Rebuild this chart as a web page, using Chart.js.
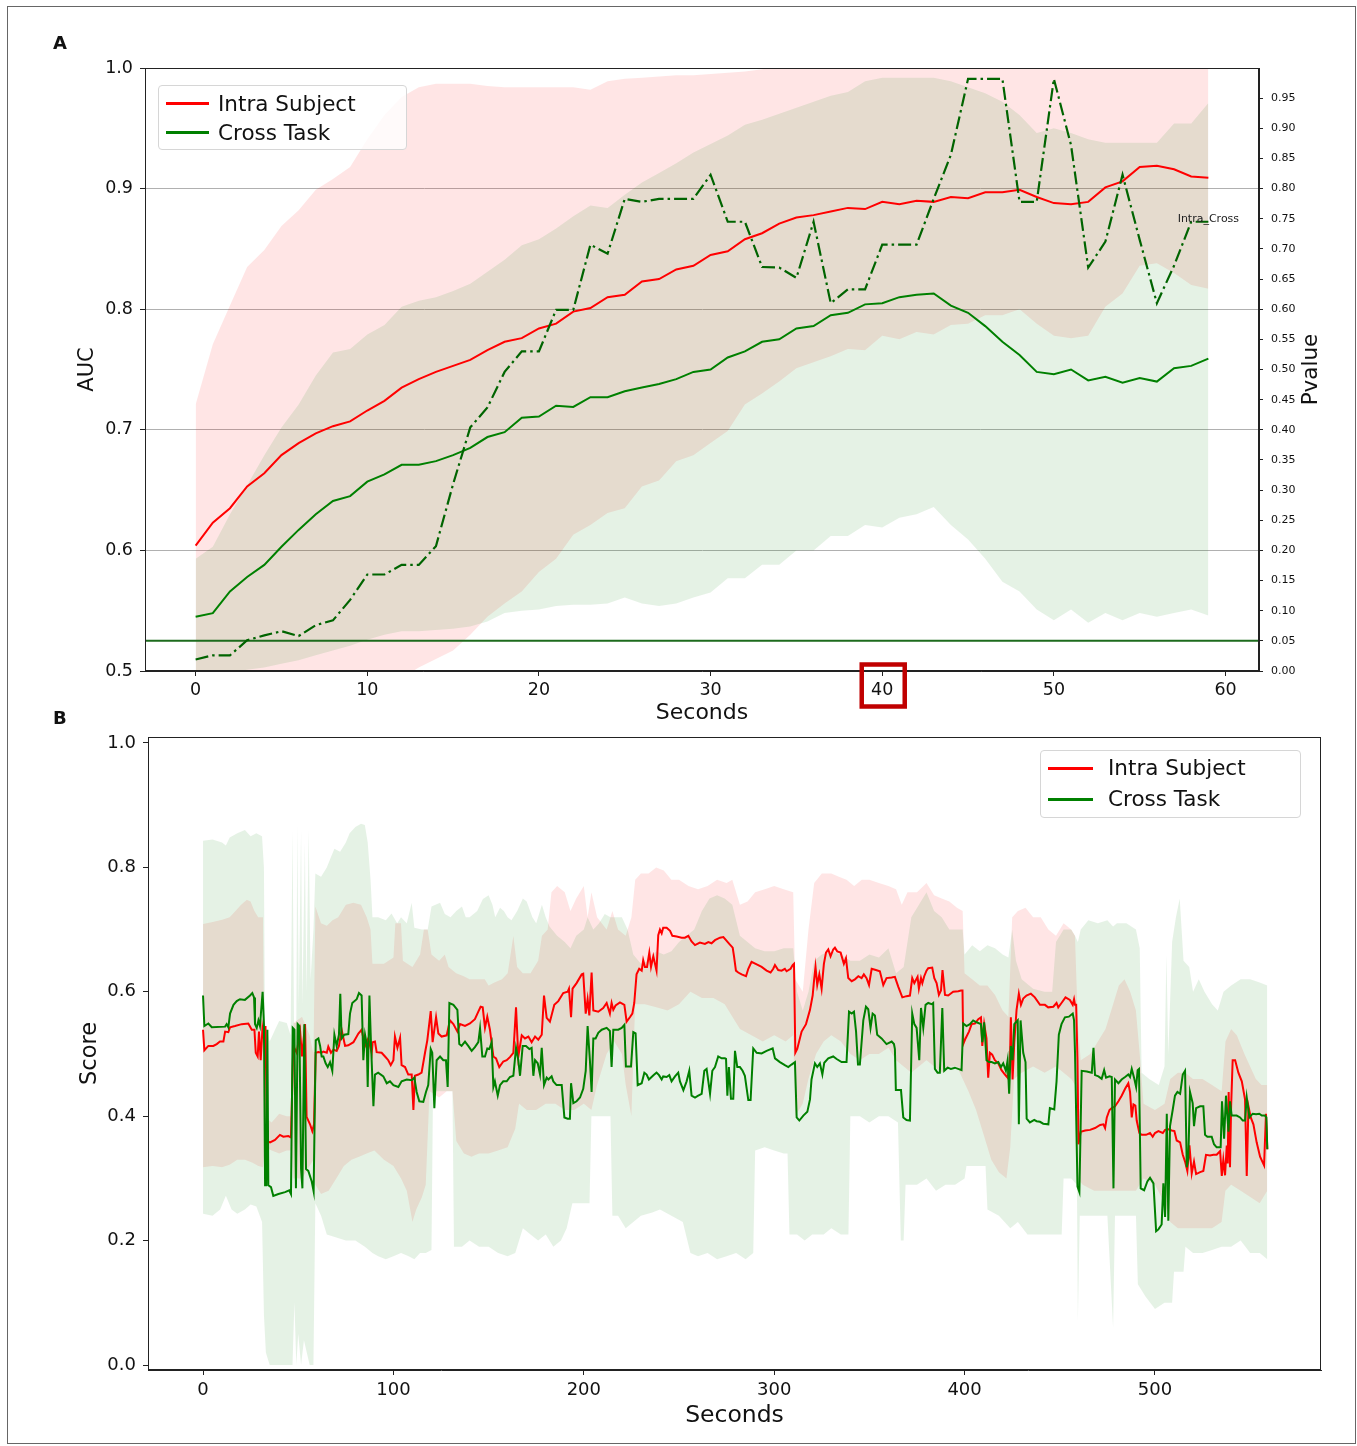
<!DOCTYPE html>
<html>
<head>
<meta charset="utf-8">
<title>AUC over time and per-second scores</title>
<script src="https://cdn.jsdelivr.net/npm/chart.js@4.4.1/dist/chart.umd.min.js"></script>
<style>
  html, body { margin: 0; padding: 0; background: #fff; overflow: hidden; }
  #page { position: relative; width: 1357px; height: 1446px; background: #fff; font-family: "DejaVu Sans", sans-serif; color: #111; }
  .frame { position: absolute; left: 7px; top: 6px; width: 1349px; height: 1438px; border: 1.5px solid #666; box-sizing: border-box; }
  .letter { position: absolute; font-weight: bold; font-size: 18px; line-height: 18px; }
  canvas { position: absolute; left: 0; }
  .legend { position: absolute; background: rgba(255,255,255,0.8); border: 1px solid #d6d6d6; border-radius: 4px; box-sizing: border-box; }
  .legend .swatch { position: absolute; height: 3px; }
  .legend .label { position: absolute; white-space: nowrap; font-size: 21.5px; line-height: 26px; }
</style>
</head>
<body>
<div id="page">
  <div class="frame"></div>
  <canvas id="chartA" width="1357" height="730" style="top:0px"></canvas>
  <canvas id="chartB" width="1357" height="746" style="top:700px"></canvas>
  <div class="letter" style="left:53px;top:34px">A</div>
  <div class="letter" style="left:53px;top:709px">B</div>

  <div class="legend" style="left:158px;top:85px;width:249px;height:65px">
    <div class="swatch" style="left:7px;top:16px;width:43px;background:#ff0000"></div>
    <div class="label" style="left:59px;top:5px">Intra Subject</div>
    <div class="swatch" style="left:7px;top:45px;width:43px;background:#008000"></div>
    <div class="label" style="left:59px;top:34px">Cross Task</div>
  </div>

  <div class="legend" style="left:1040px;top:750px;width:261px;height:68px">
    <div class="swatch" style="left:7px;top:15.5px;width:45px;background:#ff0000"></div>
    <div class="label" style="left:67px;top:4px">Intra Subject</div>
    <div class="swatch" style="left:7px;top:46.5px;width:45px;background:#008000"></div>
    <div class="label" style="left:67px;top:35px">Cross Task</div>
  </div>
</div>

<script>
// ---------- Panel A: AUC per second (mean with band) and p-value ----------
const secondsA = [0,1,2,3,4,5,6,7,8,9,10,11,12,13,14,15,16,17,18,19,20,21,22,23,24,25,26,27,28,29,
                  30,31,32,33,34,35,36,37,38,39,40,41,42,43,44,45,46,47,48,49,50,51,52,53,54,55,56,57,58,59];

const intraMeanA = [0.604,0.623,0.635,0.653,0.664,0.679,0.689,0.697,0.703,0.707,
                    0.716,0.724,0.735,0.742,0.748,0.753,0.758,0.766,0.773,0.776,
                    0.784,0.788,0.798,0.801,0.810,0.812,0.823,0.825,0.833,0.836,
                    0.845,0.848,0.858,0.863,0.871,0.876,0.878,0.881,0.884,0.883,
                    0.889,0.887,0.890,0.889,0.893,0.892,0.897,0.897,0.899,0.893,
                    0.888,0.887,0.889,0.901,0.906,0.918,0.919,0.916,0.910,0.909];
const intraUpperA = [0.721,0.771,0.803,0.835,0.849,0.869,0.882,0.899,0.908,0.918,
                     0.941,0.961,0.976,0.984,0.987,0.987,0.987,0.985,0.984,0.984,
                     0.984,0.984,0.984,0.982,0.989,0.991,0.992,0.993,0.994,0.994,
                     0.995,0.996,0.997,0.999,1.002,1.001,1.000,1.001,1.001,1.000,
                     1.000,1.001,1.002,1.001,1.001,1.000,1.001,1.001,1.002,1.002,
                     1.003,1.002,1.002,1.001,1.001,1.002,1.002,1.003,1.002,1.002];
const intraLowerA = [0.486,0.475,0.467,0.471,0.479,0.489,0.496,0.495,0.498,0.496,
                     0.491,0.487,0.494,0.503,0.510,0.517,0.530,0.545,0.556,0.566,
                     0.582,0.593,0.613,0.621,0.631,0.635,0.653,0.658,0.674,0.679,
                     0.689,0.699,0.721,0.730,0.740,0.751,0.756,0.761,0.767,0.766,
                     0.778,0.775,0.781,0.779,0.787,0.788,0.795,0.795,0.800,0.788,
                     0.778,0.776,0.778,0.802,0.813,0.836,0.838,0.830,0.820,0.817];

const crossMeanA = [0.545,0.548,0.566,0.578,0.588,0.603,0.617,0.630,0.641,0.645,
                    0.657,0.663,0.671,0.671,0.674,0.679,0.685,0.694,0.698,0.710,
                    0.711,0.720,0.719,0.727,0.727,0.732,0.735,0.738,0.742,0.748,
                    0.750,0.760,0.765,0.773,0.775,0.784,0.786,0.795,0.797,0.804,
                    0.805,0.810,0.812,0.813,0.803,0.797,0.786,0.773,0.762,0.748,
                    0.746,0.750,0.741,0.744,0.739,0.743,0.740,0.751,0.753,0.759];
const crossUpperA = [0.593,0.603,0.630,0.654,0.679,0.702,0.721,0.745,0.764,0.767,
                     0.779,0.787,0.802,0.807,0.810,0.815,0.821,0.831,0.841,0.853,
                     0.858,0.867,0.877,0.886,0.884,0.895,0.905,0.913,0.921,0.930,
                     0.937,0.944,0.953,0.957,0.962,0.967,0.972,0.977,0.980,0.989,
                     0.992,0.992,0.992,0.992,0.989,0.984,0.979,0.972,0.961,0.946,
                     0.950,0.946,0.941,0.938,0.938,0.938,0.938,0.954,0.954,0.971];
const crossLowerA = [0.495,0.497,0.499,0.501,0.503,0.506,0.509,0.513,0.517,0.521,
                     0.526,0.530,0.533,0.533,0.534,0.535,0.537,0.541,0.548,0.550,
                     0.551,0.554,0.555,0.555,0.556,0.561,0.556,0.554,0.556,0.561,
                     0.565,0.577,0.577,0.588,0.588,0.600,0.600,0.612,0.612,0.621,
                     0.619,0.627,0.630,0.636,0.621,0.609,0.593,0.574,0.566,0.551,
                     0.542,0.551,0.540,0.548,0.542,0.548,0.545,0.548,0.551,0.546];

const pValueA = [0.019,0.026,0.026,0.051,0.059,0.066,0.058,0.076,0.084,0.118,
                 0.160,0.160,0.176,0.176,0.207,0.310,0.404,0.437,0.496,0.530,
                 0.530,0.599,0.599,0.707,0.692,0.783,0.778,0.783,0.783,0.783,
                 0.823,0.745,0.745,0.670,0.669,0.652,0.745,0.610,0.633,0.633,
                 0.707,0.707,0.707,0.783,0.856,0.982,0.982,0.982,0.778,0.778,
                 0.982,0.872,0.669,0.712,0.823,0.715,0.610,0.672,0.745,0.745];
const pThreshold = 0.05;

const secTicksA = [0,10,20,30,40,50,60];
const aucTicks = [0.5,0.6,0.7,0.8,0.9,1.0];
const pTicks = [0,0.05,0.10,0.15,0.20,0.25,0.30,0.35,0.40,0.45,0.50,0.55,0.60,0.65,0.70,0.75,0.80,0.85,0.90,0.95];
const xRangeA = [-2.95, 61.95];
const noteLabel = 'Intra_Cross';
const noteAt = [59, 0.75];
const highlightedTick = 40;

// ---------- Panel B: per-second scores (breakpoints [second, score]) ----------
const intraScoreB = [[0,0.539],[0.7,0.506],[2.8,0.513],[5.4,0.513],[7.2,0.516],[8.9,0.520],[10.7,0.520],[11.6,0.536],[13.3,0.535],[14.2,0.543],[16.8,0.545],[20.3,0.548],[23.8,0.549],[25.6,0.539],[27,0.539],[27.7,0.502],[28.7,0.496],[29.4,0.536],[30.3,0.490],[31.2,0.541],[32,0.525],[32.8,0.545],[33.6,0.360],[35.2,0.358],[37.8,0.362],[40.4,0.370],[42.2,0.367],[44.8,0.368],[46.2,0.366],[47.4,0.513],[49.2,0.502],[51,0.536],[52,0.496],[53.6,0.548],[54.4,0.399],[56.2,0.387],[57.4,0.376],[58.3,0.387],[59.2,0.502],[60.6,0.503],[62.3,0.502],[63.2,0.504],[65,0.502],[65.8,0.512],[67.2,0.502],[68.5,0.507],[70.2,0.505],[71.4,0.513],[72.8,0.539],[74.6,0.513],[76.3,0.514],[79,0.519],[81.6,0.533],[83.3,0.539],[85.1,0.513],[86.8,0.525],[88.6,0.502],[89.1,0.519],[90.3,0.520],[91.2,0.503],[93.8,0.502],[95.6,0.496],[97.3,0.490],[98.6,0.482],[100,0.490],[100.8,0.528],[102.1,0.510],[103.5,0.526],[104.3,0.482],[106.1,0.479],[107.8,0.467],[109.6,0.467],[110.5,0.410],[111.3,0.465],[113.1,0.467],[114.8,0.470],[116.6,0.502],[117.8,0.522],[119.6,0.569],[120.6,0.519],[122.4,0.559],[123.6,0.533],[125.3,0.528],[128,0.530],[129.7,0.554],[131.5,0.548],[133.6,0.536],[135,0.548],[137.6,0.545],[140.2,0.549],[142.8,0.556],[144.6,0.568],[145.8,0.576],[146.9,0.575],[148.1,0.542],[149.3,0.560],[150.7,0.539],[152.5,0.496],[153.9,0.493],[155.6,0.479],[157.7,0.488],[159.5,0.490],[161.2,0.495],[163,0.502],[164.4,0.575],[165.6,0.496],[167.4,0.530],[169.1,0.525],[170.9,0.528],[172.6,0.519],[174.4,0.528],[176.1,0.523],[177.9,0.531],[179.1,0.594],[180.5,0.558],[182.2,0.552],[184.5,0.579],[186.6,0.585],[189.2,0.598],[191.5,0.600],[192.2,0.605],[193.3,0.559],[194.1,0.605],[196.2,0.614],[198.9,0.628],[199.7,0.629],[201,0.565],[202,0.588],[202.9,0.562],[204.1,0.631],[205,0.570],[207.6,0.568],[210.2,0.574],[212,0.582],[213.7,0.565],[214.6,0.582],[215.5,0.571],[216.7,0.578],[219,0.583],[221.3,0.579],[222.5,0.552],[224.2,0.559],[225.5,0.565],[226.5,0.582],[227.7,0.628],[229.1,0.637],[230.4,0.634],[231.2,0.651],[232.1,0.640],[233.2,0.640],[234.4,0.663],[235.3,0.640],[236.5,0.657],[238.2,0.634],[239.1,0.691],[240,0.700],[240.9,0.694],[241.7,0.703],[243.5,0.703],[245.3,0.698],[246.5,0.690],[248.8,0.689],[251.4,0.687],[253.1,0.687],[254.9,0.690],[256.6,0.681],[258.4,0.675],[261,0.679],[263.6,0.677],[265.4,0.680],[267.1,0.678],[268.9,0.683],[271.5,0.687],[273.3,0.688],[274.7,0.683],[276.4,0.677],[278.2,0.671],[278.9,0.657],[279.9,0.634],[281.1,0.631],[282.9,0.628],[285.2,0.625],[286.4,0.637],[288.1,0.648],[290.8,0.644],[293.4,0.640],[296,0.634],[298.1,0.631],[299.5,0.637],[300.4,0.643],[302.1,0.635],[303.9,0.634],[305.6,0.637],[306.5,0.633],[308.6,0.637],[309.7,0.643],[310.4,0.645],[311.1,0.502],[312.1,0.508],[314.4,0.536],[316.7,0.548],[318.8,0.571],[320.2,0.594],[320.9,0.617],[321.7,0.640],[322.6,0.611],[323.7,0.628],[324.9,0.605],[326.1,0.645],[327.2,0.663],[328.4,0.668],[329.6,0.657],[331,0.668],[331.9,0.671],[333.1,0.665],[334.9,0.663],[336.6,0.645],[337.7,0.654],[338.9,0.622],[340.7,0.617],[342.4,0.620],[344.2,0.625],[345.9,0.622],[347.1,0.628],[348.5,0.622],[349.8,0.611],[351.2,0.637],[353.4,0.635],[355.5,0.633],[357.3,0.611],[359,0.622],[361.7,0.623],[363.4,0.624],[365.2,0.608],[367.3,0.591],[369.5,0.593],[371.3,0.594],[372.5,0.622],[373.6,0.614],[374.3,0.618],[375.3,0.624],[376,0.605],[377.1,0.622],[377.8,0.614],[378.8,0.625],[380,0.634],[380.9,0.638],[383,0.639],[384.1,0.622],[385.3,0.614],[386.5,0.595],[387.6,0.602],[388.4,0.635],[389.7,0.595],[391.4,0.594],[394,0.600],[396.7,0.601],[398.1,0.602],[398.9,0.602],[399.3,0.516],[400.5,0.525],[402.3,0.536],[403.7,0.548],[405.4,0.549],[407.2,0.556],[408.6,0.559],[409.3,0.513],[410.3,0.548],[411.5,0.525],[412.4,0.462],[413.3,0.502],[414.5,0.499],[415.9,0.490],[417.7,0.485],[419.4,0.474],[421.2,0.467],[422.6,0.462],[423.8,0.485],[424.3,0.559],[425.2,0.459],[426.1,0.519],[427.3,0.571],[428.5,0.597],[429.6,0.579],[430.8,0.589],[432.5,0.594],[434.8,0.597],[436.9,0.591],[439.6,0.579],[442.2,0.579],[443.9,0.575],[446.6,0.576],[448.3,0.582],[449.2,0.575],[450.9,0.582],[453,0.591],[455.3,0.587],[456.8,0.579],[457.5,0.588],[458,0.579],[458.6,0.579],[459.3,0.490],[459.8,0.355],[461,0.375],[463.3,0.377],[465.9,0.378],[468.5,0.381],[471.2,0.386],[472.9,0.387],[473.8,0.381],[474.7,0.398],[476.1,0.410],[477.3,0.413],[479,0.416],[480.8,0.424],[482.5,0.433],[484.3,0.444],[486,0.453],[486.9,0.439],[487.8,0.398],[488.7,0.419],[489.7,0.417],[490.4,0.393],[491.8,0.373],[493,0.370],[495.3,0.370],[497.4,0.373],[498.8,0.367],[500,0.373],[501.8,0.376],[504.1,0.373],[505.3,0.378],[507,0.379],[508.8,0.377],[510.2,0.376],[511.4,0.361],[513.2,0.358],[514.6,0.338],[515.8,0.327],[517,0.312],[518.1,0.353],[519.3,0.308],[520.5,0.327],[521.6,0.307],[523.7,0.310],[525.4,0.312],[526.8,0.338],[528.9,0.337],[530.7,0.338],[532.4,0.338],[534.2,0.344],[535.1,0.304],[535.9,0.330],[536.8,0.305],[537.7,0.353],[538.2,0.324],[538.7,0.439],[539.4,0.318],[540,0.416],[540.8,0.490],[542.1,0.490],[543.8,0.470],[545.6,0.456],[547.3,0.427],[548.2,0.304],[549.1,0.416],[550.3,0.398],[551.7,0.387],[553.4,0.358],[555.2,0.335],[557.3,0.321],[558.3,0.404],[559,0.347]];

const crossScoreB = [[0,0.594],[0.7,0.545],[2.8,0.549],[4.6,0.543],[11.6,0.544],[12.4,0.548],[13.3,0.543],[14.2,0.565],[16,0.579],[17.7,0.585],[19.4,0.588],[22,0.587],[24.7,0.594],[25.9,0.598],[26.8,0.591],[27.3,0.548],[28.2,0.542],[29.1,0.554],[29.9,0.545],[31.3,0.600],[32,0.548],[32.6,0.289],[33.2,0.289],[33.8,0.539],[34.3,0.289],[35.7,0.286],[36.9,0.272],[39.6,0.275],[43.1,0.278],[45.3,0.281],[46.2,0.275],[47.1,0.542],[48,0.539],[48.8,0.284],[49.7,0.548],[50.6,0.545],[51.5,0.315],[52.2,0.284],[53.2,0.548],[54.1,0.315],[55.3,0.312],[57.1,0.295],[58.1,0.279],[59.2,0.522],[60.6,0.525],[61.5,0.513],[62.3,0.496],[63.2,0.496],[64.4,0.485],[65.5,0.479],[66.7,0.487],[67.9,0.473],[69,0.531],[70.2,0.513],[71.4,0.531],[72.1,0.597],[72.8,0.525],[74.2,0.531],[76.3,0.532],[77.2,0.565],[78.4,0.582],[80.7,0.588],[81.9,0.598],[83.3,0.594],[84.2,0.490],[85.1,0.531],[86,0.516],[86.5,0.447],[87.4,0.594],[88.2,0.519],[89.5,0.416],[90.3,0.467],[92,0.470],[94.7,0.464],[96.5,0.453],[98.2,0.456],[100,0.450],[102.6,0.447],[104.3,0.456],[107,0.459],[109.6,0.458],[111,0.462],[112.2,0.439],[113.6,0.424],[115.7,0.423],[117.1,0.439],[118.3,0.450],[119.6,0.508],[120.4,0.502],[121.5,0.413],[122.7,0.490],[124.5,0.496],[126.2,0.490],[127.6,0.490],[128.5,0.447],[129.4,0.582],[131.5,0.579],[133.6,0.571],[134.6,0.516],[135.8,0.513],[137.6,0.520],[139.3,0.513],[141.1,0.505],[142.8,0.511],[144.6,0.519],[145.5,0.541],[146.7,0.496],[148.1,0.496],[149.3,0.509],[150.4,0.508],[151.6,0.519],[152.5,0.447],[153.3,0.456],[154.8,0.433],[156,0.450],[157.7,0.456],[159.5,0.456],[161.2,0.463],[163,0.465],[164.4,0.510],[165.6,0.490],[166.5,0.465],[167.9,0.513],[169.6,0.513],[171.4,0.508],[172.6,0.510],[173.5,0.465],[174.4,0.490],[175.8,0.485],[177,0.467],[177.9,0.510],[179.1,0.450],[180.5,0.462],[181.4,0.459],[183.1,0.464],[184,0.456],[185.7,0.450],[188.4,0.450],[189.8,0.398],[191.5,0.396],[192.7,0.396],[193.3,0.453],[194.5,0.421],[196.2,0.424],[198,0.430],[199.7,0.444],[201,0.473],[202,0.545],[203.2,0.490],[204.1,0.439],[205,0.525],[206.2,0.525],[207.6,0.534],[209.4,0.539],[212,0.542],[213.7,0.537],[214.6,0.479],[215.5,0.539],[218.1,0.539],[219.9,0.542],[221.3,0.547],[222.1,0.480],[224.8,0.480],[226,0.535],[227.2,0.533],[228.3,0.450],[230.4,0.453],[231.8,0.470],[233,0.467],[234.2,0.459],[235.6,0.463],[237,0.467],[238.2,0.470],[239.5,0.466],[240.9,0.459],[241.7,0.464],[243.5,0.463],[244.9,0.466],[246.1,0.456],[247.9,0.464],[249.6,0.470],[250.5,0.456],[252.3,0.442],[254,0.456],[255.4,0.473],[256.6,0.433],[258.4,0.430],[260.1,0.433],[261.9,0.436],[263.3,0.473],[264.5,0.476],[266.3,0.436],[267.5,0.473],[268.9,0.479],[270.6,0.496],[272.4,0.493],[274.1,0.493],[274.7,0.492],[275.4,0.433],[276.2,0.479],[277.3,0.428],[278.5,0.428],[279.4,0.505],[280.6,0.479],[282,0.479],[283.4,0.473],[284.6,0.465],[286.4,0.426],[287.6,0.426],[289,0.509],[290.8,0.502],[293.4,0.501],[296,0.505],[299.2,0.509],[300.4,0.493],[303,0.487],[305.6,0.482],[307.4,0.479],[309.1,0.483],[310.9,0.487],[311.8,0.398],[313.2,0.393],[315.3,0.401],[317.4,0.407],[318.8,0.427],[319.6,0.459],[321.4,0.485],[322.6,0.479],[324,0.485],[325.3,0.467],[326.3,0.486],[328.4,0.493],[331,0.496],[332.8,0.492],[335.4,0.487],[338,0.487],[339.3,0.568],[340.7,0.565],[341.9,0.568],[343,0.536],[344,0.483],[345,0.483],[346.8,0.554],[348.2,0.576],[349.4,0.572],[350.6,0.542],[351.7,0.565],[352.9,0.562],[354.1,0.531],[356.4,0.525],[359,0.516],[361.7,0.520],[362.9,0.516],[363.4,0.508],[363.9,0.442],[366.6,0.442],[367.8,0.398],[369.5,0.394],[371.3,0.393],[372.5,0.565],[373.6,0.548],[374.8,0.542],[376.2,0.490],[377.1,0.574],[378.3,0.542],[379.5,0.579],[380.9,0.582],[382.7,0.580],[383.5,0.582],[384.4,0.476],[385.8,0.470],[387,0.470],[388.3,0.574],[389.3,0.473],[391.1,0.478],[392.8,0.476],[394.9,0.478],[398.4,0.474],[399.3,0.549],[401,0.545],[402.8,0.548],[404.5,0.554],[406.3,0.551],[408.6,0.548],[409.3,0.519],[410.3,0.551],[411.5,0.490],[412.8,0.487],[414.2,0.487],[415.9,0.485],[417.7,0.487],[419.1,0.479],[420.3,0.485],[421.7,0.473],[422.6,0.490],[423.4,0.436],[424.3,0.513],[425.2,0.490],[426.1,0.548],[427.9,0.554],[428.5,0.387],[429.4,0.554],[430.8,0.502],[432,0.487],[432.6,0.396],[434.3,0.390],[436.6,0.394],[437.8,0.392],[439.6,0.391],[441.3,0.388],[444,0.387],[444.8,0.413],[447.1,0.411],[448.3,0.456],[449.5,0.531],[450.9,0.548],[452.7,0.559],[454.8,0.560],[456.8,0.565],[457.5,0.554],[458,0.502],[459.3,0.287],[460.3,0.278],[461.5,0.473],[464.2,0.472],[466.8,0.470],[467.7,0.510],[468.5,0.466],[470.3,0.464],[472,0.460],[473.3,0.474],[474.3,0.462],[476.1,0.464],[477.3,0.463],[478.2,0.284],[479,0.459],[480.8,0.453],[482.5,0.459],[484.3,0.463],[486,0.467],[486.9,0.463],[487.8,0.476],[489,0.462],[490.1,0.447],[490.9,0.474],[491.6,0.476],[492.5,0.284],[494.3,0.281],[496,0.295],[497.4,0.301],[499.2,0.292],[500.6,0.215],[501.8,0.218],[503.5,0.226],[504.4,0.292],[505.3,0.238],[506.2,0.404],[507,0.232],[507.9,0.384],[509.3,0.410],[510.5,0.433],[511.8,0.439],[513.2,0.436],[514.6,0.467],[515.8,0.473],[516.7,0.318],[517.5,0.332],[518.4,0.439],[519.8,0.421],[520.5,0.384],[521.6,0.413],[523.7,0.416],[525.4,0.416],[526.3,0.370],[527.5,0.367],[529.8,0.367],[531,0.355],[532.4,0.350],[534.5,0.350],[535.2,0.424],[536.3,0.364],[537.3,0.433],[538.6,0.375],[539.4,0.424],[540.3,0.401],[541.2,0.401],[542.9,0.401],[544.7,0.398],[546.1,0.393],[547.3,0.393],[548.2,0.430],[549.6,0.398],[551.3,0.404],[553.1,0.403],[554.8,0.404],[556.1,0.401],[557.8,0.401],[558.5,0.398],[559,0.347]];

const intraUpperB = [[0,0.709],[5,0.712],[10,0.716],[14,0.72],[17,0.73],[20,0.74],[23,0.748],[25,0.745],[27,0.73],[29,0.72],[31.5,0.72],[32.5,0.40],[36,0.39],[40,0.404],[44,0.40],[46.5,0.40],[47.5,0.55],[52,0.56],[56,0.53],[58,0.50],[59,0.737],[62,0.71],[65,0.706],[68,0.715],[71,0.72],[75,0.74],[79,0.743],[83,0.74],[86,0.72],[88,0.70],[89,0.645],[95,0.645],[100,0.655],[101,0.71],[104,0.71],[105,0.65],[110,0.64],[114,0.66],[116,0.70],[118,0.70],[120,0.66],[124,0.65],[127,0.66],[129,0.64],[133,0.63],[137,0.625],[140,0.62],[145,0.62],[148,0.62],[150,0.61],[153,0.615],[157,0.62],[160,0.63],[163,0.69],[165,0.64],[168,0.63],[172,0.63],[176,0.65],[178,0.69],[181,0.70],[183,0.76],[186,0.77],[190,0.76],[193,0.73],[196,0.75],[200,0.77],[202,0.72],[204,0.76],[207,0.72],[212,0.70],[215,0.73],[218,0.70],[222,0.69],[225,0.72],[227,0.78],[230,0.79],[234,0.79],[238,0.80],[242,0.795],[246,0.78],[250,0.78],[255,0.77],[260,0.765],[265,0.77],[270,0.78],[275,0.775],[278,0.78],[282,0.74],[286,0.745],[290,0.76],[295,0.765],[300,0.77],[305,0.765],[310,0.76],[311,0.62],[315,0.60],[318,0.70],[321,0.775],[325,0.79],[330,0.79],[334,0.785],[338,0.78],[342,0.77],[346,0.78],[350,0.78],[355,0.775],[360,0.77],[364,0.765],[367,0.74],[370,0.76],[375,0.76],[380,0.775],[384,0.755],[388,0.75],[392,0.745],[396,0.735],[399,0.73],[400,0.63],[404,0.62],[408,0.61],[412,0.61],[416,0.595],[420,0.57],[423,0.56],[425,0.72],[428,0.73],[432,0.735],[436,0.72],[440,0.72],[444,0.70],[448,0.69],[452,0.71],[456,0.70],[458,0.69],[459.5,0.55],[461,0.49],[466,0.50],[470,0.52],[474,0.54],[478,0.58],[481,0.61],[484,0.62],[487,0.60],[490,0.57],[492,0.50],[494,0.42],[500,0.41],[505,0.42],[508,0.46],[512,0.47],[516,0.47],[520,0.46],[525,0.46],[530,0.45],[535,0.44],[537,0.52],[540,0.54],[543,0.53],[547,0.50],[550,0.48],[553,0.46],[556,0.45],[559,0.45]];

const intraLowerB = [[0,0.318],[5,0.32],[10,0.318],[14,0.322],[18,0.33],[22,0.33],[26,0.325],[29,0.32],[31.5,0.318],[32.5,0.35],[36,0.345],[40,0.34],[44,0.345],[46.5,0.345],[47.5,0.30],[52,0.30],[56,0.32],[58,0.33],[59,0.29],[62,0.275],[66,0.28],[70,0.30],[74,0.32],[78,0.33],[82,0.335],[86,0.34],[90,0.345],[95,0.33],[100,0.32],[104,0.30],[107,0.28],[110,0.23],[112,0.25],[115,0.27],[117,0.29],[119,0.44],[124,0.43],[128,0.44],[131,0.44],[133,0.36],[137,0.34],[141,0.335],[145,0.34],[150,0.34],[155,0.345],[160,0.35],[164,0.38],[166,0.42],[170,0.41],[175,0.41],[180,0.42],[185,0.42],[190,0.41],[195,0.41],[200,0.42],[204,0.41],[207,0.45],[212,0.50],[216,0.52],[220,0.50],[222,0.45],[225,0.40],[227,0.58],[232,0.58],[238,0.575],[244,0.57],[250,0.58],[256,0.60],[262,0.59],[268,0.59],[274,0.58],[278,0.56],[282,0.54],[288,0.53],[294,0.52],[300,0.53],[306,0.52],[310,0.53],[311,0.40],[315,0.42],[318,0.46],[322,0.50],[326,0.52],[330,0.53],[335,0.52],[340,0.50],[345,0.49],[350,0.50],[355,0.50],[360,0.51],[364,0.49],[368,0.48],[372,0.47],[376,0.48],[380,0.49],[384,0.48],[388,0.47],[392,0.48],[396,0.48],[399,0.46],[402,0.44],[406,0.41],[410,0.37],[414,0.33],[418,0.31],[422,0.30],[424,0.35],[426,0.46],[430,0.47],[436,0.48],[442,0.47],[448,0.48],[452,0.47],[456,0.46],[458,0.45],[459.5,0.30],[462,0.29],[468,0.28],[474,0.28],[480,0.28],[485,0.28],[490,0.28],[494,0.30],[500,0.29],[505,0.26],[508,0.23],[512,0.22],[518,0.22],[524,0.22],[530,0.22],[535,0.23],[537,0.28],[540,0.29],[545,0.28],[550,0.27],[555,0.26],[559,0.28]];

const crossUpperB = [[0,0.843],[5,0.845],[10,0.84],[12,0.835],[14,0.848],[18,0.855],[22,0.86],[25,0.85],[28,0.855],[31,0.85],[32,0.80],[32.5,0.55],[35,0.52],[38,0.54],[40,0.553],[44,0.55],[46,0.53],[47,0.86],[47.8,0.55],[49,0.55],[49.5,0.87],[50.3,0.58],[51.5,0.86],[52.2,0.58],[53.5,0.84],[54.3,0.60],[55.5,0.86],[56.5,0.62],[58,0.70],[59,0.79],[62,0.785],[65,0.80],[67,0.815],[69,0.83],[72,0.825],[75,0.84],[77,0.855],[80,0.865],[83,0.87],[85,0.868],[86.5,0.84],[88,0.78],[89,0.72],[92,0.72],[96,0.715],[99,0.726],[102,0.71],[104,0.72],[107,0.71],[109.6,0.743],[111,0.703],[115,0.70],[118,0.70],[120,0.737],[124.5,0.743],[127,0.725],[130,0.72],[133,0.73],[136,0.737],[138,0.72],[140,0.72],[144,0.73],[147,0.749],[150,0.755],[152,0.74],[153.5,0.72],[156,0.735],[158,0.73],[160,0.72],[162,0.715],[165,0.73],[168,0.75],[170,0.745],[173,0.72],[175,0.71],[178,0.74],[180,0.72],[182,0.705],[186,0.69],[190,0.68],[193,0.67],[196,0.69],[200,0.70],[202,0.72],[205,0.70],[208,0.71],[211,0.725],[214,0.72],[217,0.72],[220,0.72],[223,0.70],[226,0.66],[230,0.645],[234,0.65],[238,0.665],[242,0.66],[246,0.665],[250,0.68],[254,0.69],[258,0.70],[262,0.73],[266,0.75],[270,0.755],[274,0.75],[278,0.74],[282,0.69],[286,0.68],[290,0.67],[295,0.665],[300,0.665],[305,0.67],[310,0.67],[312,0.60],[315,0.57],[318,0.60],[321,0.65],[325,0.66],[330,0.665],[335,0.66],[340,0.65],[345,0.65],[350,0.66],[355,0.655],[360,0.67],[364,0.63],[368,0.64],[372,0.72],[376,0.74],[380,0.76],[384,0.73],[388,0.72],[392,0.70],[396,0.70],[399,0.70],[400,0.66],[404,0.675],[408,0.665],[412,0.675],[416,0.67],[420,0.66],[423,0.655],[425,0.70],[427,0.65],[430,0.62],[436,0.605],[442,0.60],[446,0.60],[448,0.68],[452,0.70],[456,0.70],[458,0.69],[459.5,0.68],[461,0.70],[465,0.715],[470,0.71],[475,0.715],[478,0.705],[480,0.71],[485,0.71],[490,0.70],[492,0.67],[493,0.47],[497,0.46],[502,0.45],[505,0.48],[506,0.66],[507,0.50],[509,0.68],[511,0.72],[513,0.75],[515,0.65],[518,0.64],[520,0.60],[523,0.62],[526,0.60],[530,0.58],[533,0.57],[536,0.60],[540,0.61],[545,0.62],[550,0.62],[555,0.615],[559,0.61]];

const crossLowerB = [[0,0.243],[5,0.24],[9,0.25],[12,0.272],[15,0.25],[18,0.243],[22,0.25],[25,0.258],[28,0.255],[31,0.23],[32,0.08],[33,0.02],[35,0.0],[40,0.0],[45,0.0],[47,0.0],[48,0.1],[49,0.0],[50,0.05],[51.5,0.0],[53,0.04],[56,0.0],[58,0.0],[59,0.26],[62,0.24],[65,0.21],[70,0.205],[75,0.20],[80,0.20],[85,0.19],[89,0.18],[92,0.175],[96,0.17],[100,0.175],[104,0.18],[108,0.175],[111,0.17],[114,0.18],[117,0.18],[120,0.185],[120.8,0.44],[126,0.44],[131,0.44],[131.8,0.19],[136,0.19],[140,0.20],[145,0.19],[150,0.19],[155,0.18],[160,0.175],[164,0.18],[168,0.22],[172,0.21],[176,0.20],[180,0.21],[184,0.19],[188,0.20],[191,0.22],[194,0.26],[198,0.26],[203,0.26],[204,0.40],[208,0.40],[214,0.40],[215,0.24],[218,0.24],[222,0.22],[226,0.23],[230,0.24],[236,0.245],[240,0.25],[246,0.24],[252,0.23],[256,0.18],[260,0.175],[265,0.18],[270,0.17],[275,0.175],[280,0.18],[285,0.17],[289,0.18],[290,0.345],[295,0.35],[300,0.345],[305,0.34],[307,0.34],[308,0.21],[312,0.21],[316,0.20],[320,0.21],[326,0.21],[330,0.22],[335,0.21],[339,0.21],[340,0.40],[345,0.40],[350,0.39],[355,0.40],[360,0.40],[365,0.39],[366.5,0.20],[368,0.20],[369,0.29],[375,0.29],[380,0.30],[385,0.28],[390,0.29],[395,0.29],[400,0.30],[401,0.32],[406,0.32],[411,0.32],[412,0.25],[418,0.24],[424,0.22],[428,0.23],[433,0.21],[440,0.21],[446,0.21],[451,0.21],[452,0.30],[456,0.30],[459,0.29],[459.5,0.07],[460.5,0.24],[465,0.24],[470,0.24],[475,0.24],[478,0.06],[479,0.24],[485,0.24],[490,0.24],[491,0.13],[495,0.11],[500,0.09],[505,0.10],[509,0.10],[510,0.15],[515,0.15],[516,0.19],[520,0.18],[525,0.18],[530,0.185],[535,0.19],[540,0.19],[545,0.20],[550,0.18],[555,0.18],[559,0.17]];

const secTicksB = [0,100,200,300,400,500];
const scoreTicks = [0,0.2,0.4,0.6,0.8,1.0];
const xRangeB = [-28.9, 587.2];
const yRangeB = [-0.008, 1.0096];

// ---------- shared styling ----------
const RED = '#ff0000';
const GREEN = '#008000';
const DARKGREEN = '#006400';
const PINK_FILL = 'rgba(255,0,0,0.1)';
const GREEN_FILL = 'rgba(0,128,0,0.1)';
const INK = '#111';
const AXIS = '#222';
const FONT = "'DejaVu Sans', sans-serif";

Chart.defaults.font.family = FONT;
Chart.defaults.color = INK;

const toPoints = (xs, ys) => xs.map((x, i) => ({ x, y: ys[i] }));
const pairPoints = pairs => pairs.map(p => ({ x: p[0], y: p[1] }));
const fixedTicks = values => scale => { scale.ticks = values.map(v => ({ value: v })); };

function bandSet(upper, lower, color, order) {
  return [
    { data: upper, fill: '+1', backgroundColor: color, borderWidth: 0, borderColor: 'rgba(0,0,0,0)', pointRadius: 0, order },
    { data: lower, fill: false, borderWidth: 0, borderColor: 'rgba(0,0,0,0)', pointRadius: 0, order }
  ];
}

// draws the box outline of the plotting area
const spines = {
  id: 'spines',
  afterDraw(chart) {
    const { ctx, chartArea: a } = chart;
    ctx.save();
    ctx.strokeStyle = AXIS;
    ctx.lineWidth = 1;
    ctx.strokeRect(Math.round(a.left) + 0.5, Math.round(a.top) + 0.5,
                   Math.round(a.right - a.left) - 1, Math.round(a.bottom - a.top) - 1);
    ctx.restore();
  }
};

// Panel A extras: text note on the p-value axis, right-axis title, highlighted tick label
const panelANotes = {
  id: 'panelANotes',
  afterDatasetsDraw(chart) {
    const { ctx } = chart;
    const x = chart.scales.x.getPixelForValue(noteAt[0]);
    const y = chart.scales.p.getPixelForValue(noteAt[1]);
    ctx.save();
    ctx.font = `11px ${FONT}`;
    ctx.fillStyle = '#222';
    ctx.textAlign = 'center';
    ctx.textBaseline = 'middle';
    ctx.fillText(noteLabel, x, y);
    ctx.restore();
  },
  afterDraw(chart) {
    const { ctx, chartArea: a } = chart;
    ctx.save();
    // right axis title, reading bottom to top
    ctx.translate(1311, (a.top + a.bottom) / 2);
    ctx.rotate(-Math.PI / 2);
    ctx.font = `21.5px ${FONT}`;
    ctx.fillStyle = INK;
    ctx.textAlign = 'center';
    ctx.textBaseline = 'middle';
    ctx.fillText('Pvalue', 0, 0);
    ctx.restore();

    // frame around one x tick label
    const cx = chart.scales.x.getPixelForValue(highlightedTick);
    ctx.save();
    ctx.strokeStyle = '#c00000';
    ctx.lineWidth = 4.5;
    ctx.strokeRect(cx - 20.5, a.bottom - 6.5, 43, 42);
    ctx.restore();
  }
};

// ---------- Panel A chart ----------
new Chart(document.getElementById('chartA'), {
  type: 'line',
  data: {
    datasets: [
      { label: 'Intra Subject', data: toPoints(secondsA, intraMeanA), borderColor: RED, borderWidth: 2, pointRadius: 0, fill: false, yAxisID: 'y', order: 2 },
      { label: 'Cross Task', data: toPoints(secondsA, crossMeanA), borderColor: GREEN, borderWidth: 2, pointRadius: 0, fill: false, yAxisID: 'y', order: 1 },
      { label: 'Intra_Cross', data: toPoints(secondsA, pValueA), borderColor: DARKGREEN, borderWidth: 2.2, borderDash: [13, 4, 2.5, 4], pointRadius: 0, fill: false, yAxisID: 'p', order: 0 },
      { label: 'p = 0.05', data: [{ x: xRangeA[0], y: pThreshold }, { x: xRangeA[1], y: pThreshold }], borderColor: '#1d6b1d', borderWidth: 2, pointRadius: 0, fill: false, yAxisID: 'p', order: 0 },
      ...bandSet(toPoints(secondsA, intraUpperA), toPoints(secondsA, intraLowerA), PINK_FILL, 6).map(d => ({ ...d, yAxisID: 'y' })),
      ...bandSet(toPoints(secondsA, crossUpperA), toPoints(secondsA, crossLowerA), GREEN_FILL, 5).map(d => ({ ...d, yAxisID: 'y' }))
    ]
  },
  options: {
    responsive: false,
    animation: false,
    events: [],
    layout: { padding: { top: 68, left: 0, right: 0, bottom: 0 } },
    elements: { line: { tension: 0 } },
    plugins: { legend: { display: false }, tooltip: { enabled: false } },
    scales: {
      x: {
        type: 'linear', min: xRangeA[0], max: xRangeA[1],
        afterBuildTicks: fixedTicks(secTicksA),
        afterFit: s => { s.height = 59; },
        ticks: { autoSkip: false, maxRotation: 0, padding: 4, font: { size: 17.5 }, color: INK, callback: v => String(v) },
        grid: { drawOnChartArea: false, drawTicks: true, tickLength: 5, tickColor: AXIS },
        border: { display: true, color: AXIS },
        title: { display: true, text: 'Seconds', font: { size: 22 }, color: INK, padding: { top: 0, bottom: 4 } }
      },
      y: {
        type: 'linear', position: 'left', min: 0.5, max: 1.0,
        afterBuildTicks: fixedTicks(aucTicks),
        afterFit: s => { s.width = 145; },
        ticks: { autoSkip: false, padding: 7, font: { size: 17.5 }, color: INK, callback: v => v.toFixed(1) },
        grid: { color: '#b0b0b0', lineWidth: 1, drawTicks: true, tickLength: 5, tickColor: AXIS },
        border: { display: true, color: AXIS },
        title: { display: true, text: 'AUC', font: { size: 21 }, color: INK, padding: { top: 75, bottom: 0 } }
      },
      p: {
        type: 'linear', position: 'right', min: 0, max: 1,
        afterBuildTicks: fixedTicks(pTicks),
        afterFit: s => { s.width = 98; },
        ticks: { autoSkip: false, padding: 8, font: { size: 11 }, color: INK, callback: v => v.toFixed(2) },
        grid: { drawOnChartArea: false, drawTicks: true, tickLength: 4, tickColor: AXIS },
        border: { display: true, color: AXIS }
      }
    }
  },
  plugins: [spines, panelANotes]
});

// ---------- Panel B chart ----------
new Chart(document.getElementById('chartB'), {
  type: 'line',
  data: {
    datasets: [
      { label: 'Intra Subject', data: pairPoints(intraScoreB), borderColor: RED, borderWidth: 2, pointRadius: 0, fill: false, order: 1 },
      { label: 'Cross Task', data: pairPoints(crossScoreB), borderColor: GREEN, borderWidth: 2, pointRadius: 0, fill: false, order: 0 },
      ...bandSet(pairPoints(intraUpperB), pairPoints(intraLowerB), PINK_FILL, 6),
      ...bandSet(pairPoints(crossUpperB), pairPoints(crossLowerB), GREEN_FILL, 5)
    ]
  },
  options: {
    responsive: false,
    animation: false,
    events: [],
    layout: { padding: { top: 37, left: 0, right: 36, bottom: 0 } },
    elements: { line: { tension: 0 } },
    plugins: { legend: { display: false }, tooltip: { enabled: false } },
    scales: {
      x: {
        type: 'linear', min: xRangeB[0], max: xRangeB[1],
        afterBuildTicks: fixedTicks(secTicksB),
        afterFit: s => { s.height = 76; },
        ticks: { autoSkip: false, maxRotation: 0, padding: 5, font: { size: 18 }, color: INK, callback: v => String(v) },
        grid: { drawOnChartArea: false, drawTicks: true, tickLength: 5, tickColor: AXIS },
        border: { display: true, color: AXIS },
        title: { display: true, text: 'Seconds', font: { size: 23.5 }, color: INK, padding: { top: 0, bottom: 16 } }
      },
      y: {
        type: 'linear', position: 'left', min: yRangeB[0], max: yRangeB[1],
        afterBuildTicks: fixedTicks(scoreTicks),
        afterFit: s => { s.width = 148; },
        ticks: { autoSkip: false, padding: 7, font: { size: 18 }, color: INK, callback: v => v.toFixed(1) },
        grid: { drawOnChartArea: false, drawTicks: true, tickLength: 5, tickColor: AXIS },
        border: { display: true, color: AXIS },
        title: { display: true, text: 'Score', font: { size: 22.5 }, color: INK, padding: { top: 77, bottom: 0 } }
      }
    }
  },
  plugins: [spines]
});
</script>
</body>
</html>
